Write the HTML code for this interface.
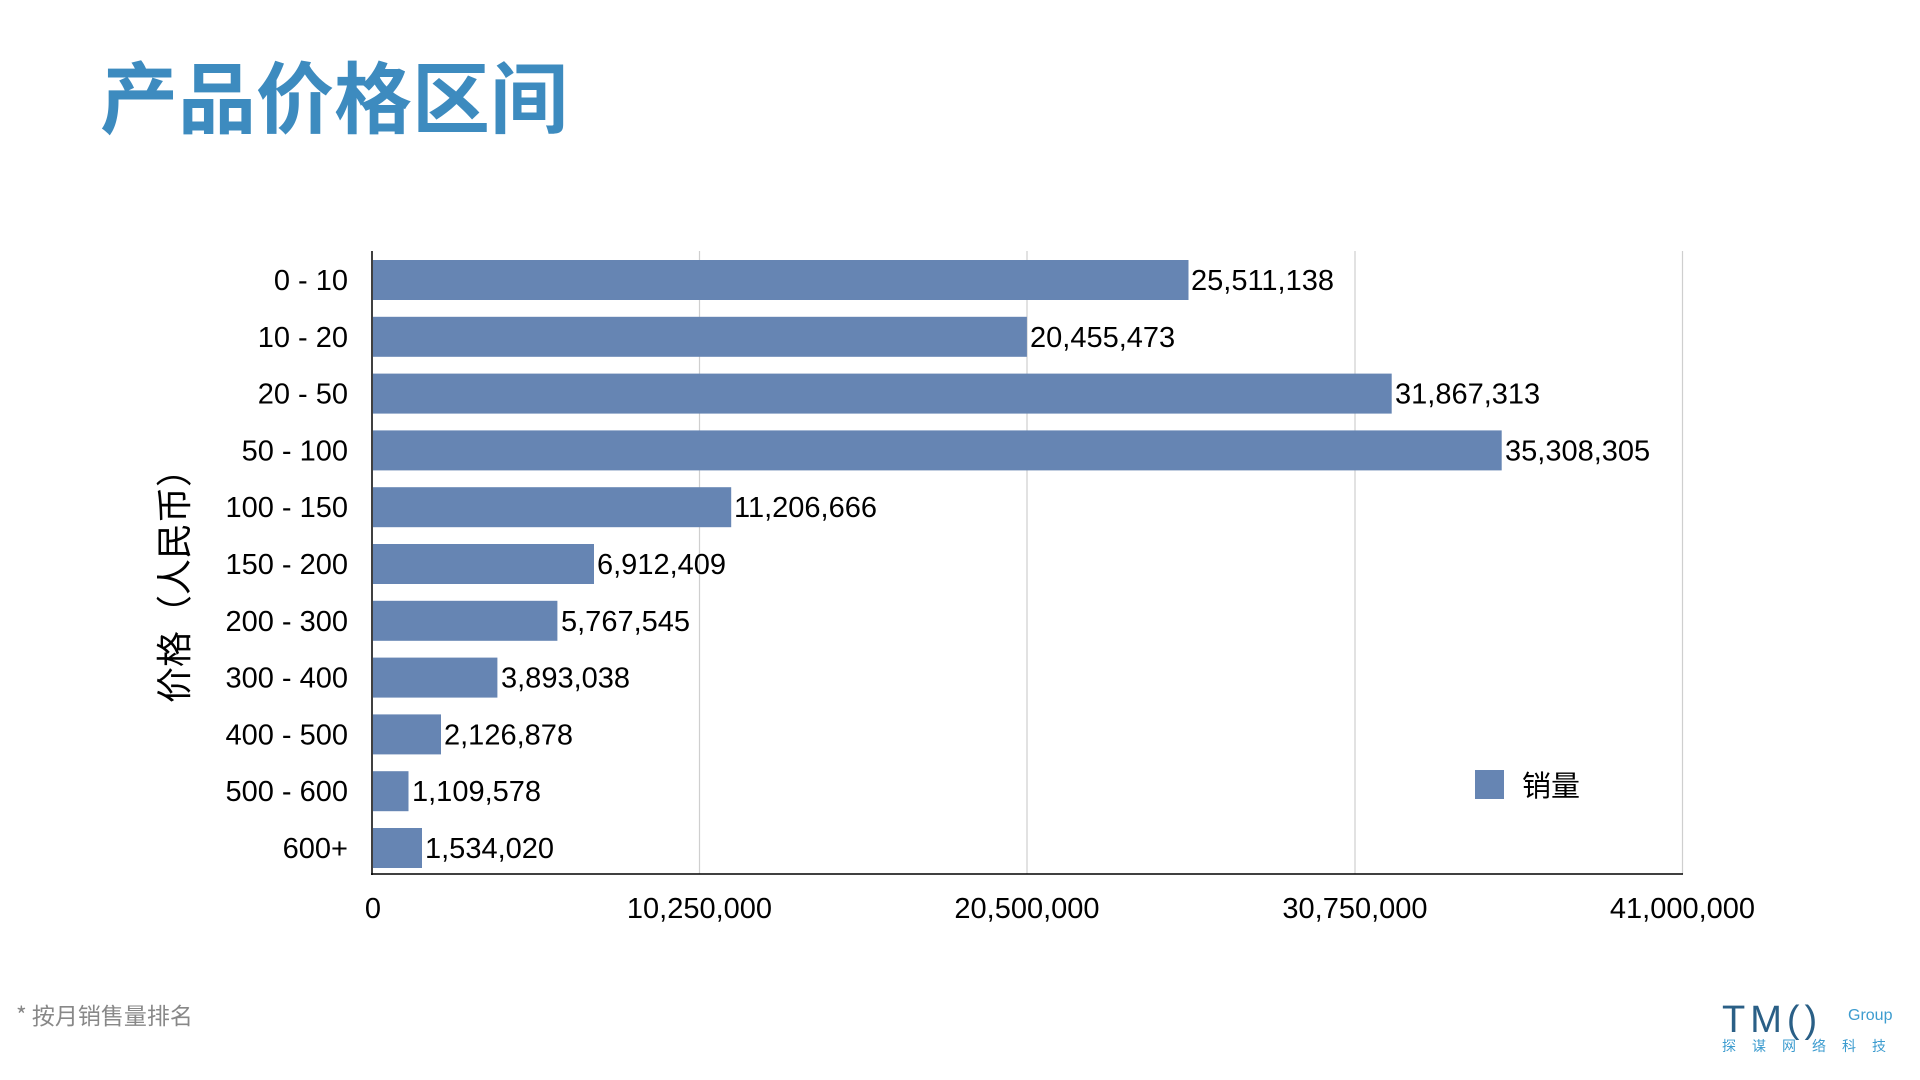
<!DOCTYPE html>
<html><head><meta charset="utf-8"><style>
html,body{margin:0;padding:0;background:#fff;width:1920px;height:1080px;overflow:hidden}
svg{display:block}
</style></head><body>
<svg width="1920" height="1080" xmlns="http://www.w3.org/2000/svg" font-family="'Liberation Sans','Noto Sans CJK SC',sans-serif">
<text x="100" y="127" font-size="78" font-weight="bold" fill="#3d8bbf" font-family="'Noto Sans CJK SC','WenQuanYi Zen Hei',sans-serif">产品价格区间</text>
<g stroke="#cfcfcf" stroke-width="1.2">
<line x1="699.5" y1="251" x2="699.5" y2="874"/>
<line x1="1027" y1="251" x2="1027" y2="874"/>
<line x1="1355" y1="251" x2="1355" y2="874"/>
<line x1="1682.5" y1="251" x2="1682.5" y2="874"/>
</g>
<g fill="#6685b3">
<rect x="373" y="260" width="815.5" height="40"/>
<rect x="373" y="316.8" width="653.9" height="40"/>
<rect x="373" y="373.6" width="1018.7" height="40"/>
<rect x="373" y="430.4" width="1128.7" height="40"/>
<rect x="373" y="487.2" width="358.2" height="40"/>
<rect x="373" y="544" width="221" height="40"/>
<rect x="373" y="600.8" width="184.4" height="40"/>
<rect x="373" y="657.6" width="124.4" height="40"/>
<rect x="373" y="714.4" width="68" height="40"/>
<rect x="373" y="771.2" width="35.5" height="40"/>
<rect x="373" y="828" width="49" height="40"/>
</g>
<line x1="372" y1="251" x2="372" y2="875" stroke="#000" stroke-width="1.5"/>
<line x1="371" y1="874" x2="1683" y2="874" stroke="#000" stroke-width="1.5"/>
<g font-size="29" fill="#000" text-anchor="end">
<text x="348" y="290">0 - 10</text>
<text x="348" y="346.8">10 - 20</text>
<text x="348" y="403.6">20 - 50</text>
<text x="348" y="460.4">50 - 100</text>
<text x="348" y="517.2">100 - 150</text>
<text x="348" y="574">150 - 200</text>
<text x="348" y="630.8">200 - 300</text>
<text x="348" y="687.6">300 - 400</text>
<text x="348" y="744.4">400 - 500</text>
<text x="348" y="801.2">500 - 600</text>
<text x="348" y="858">600+</text>
</g>
<g font-size="29" fill="#000">
<text x="1191" y="290">25,511,138</text>
<text x="1030" y="346.8">20,455,473</text>
<text x="1395" y="403.6">31,867,313</text>
<text x="1505" y="460.4">35,308,305</text>
<text x="734" y="517.2">11,206,666</text>
<text x="597" y="574">6,912,409</text>
<text x="561" y="630.8">5,767,545</text>
<text x="501" y="687.6">3,893,038</text>
<text x="444" y="744.4">2,126,878</text>
<text x="412" y="801.2">1,109,578</text>
<text x="425" y="858">1,534,020</text>
</g>
<g font-size="29" fill="#000" text-anchor="middle">
<text x="373" y="918">0</text>
<text x="699.5" y="918">10,250,000</text>
<text x="1027" y="918">20,500,000</text>
<text x="1355" y="918">30,750,000</text>
<text x="1682.5" y="918">41,000,000</text>
</g>
<text transform="translate(187,577) rotate(-90)" font-size="36" text-anchor="middle" fill="#000" font-family="'Noto Sans CJK SC',sans-serif">价格（人民币）</text>
<rect x="1475" y="770" width="29" height="29" fill="#6685b3"/>
<text x="1522" y="796" font-size="29" fill="#000" font-family="'Noto Sans CJK SC',sans-serif">销量</text>
<text x="16" y="1024" font-size="23" fill="#888" font-family="'Noto Sans CJK SC',sans-serif">* 按月销售量排名</text>
<text x="1722" y="1032" font-size="38" fill="#2a5f86" font-family="'Liberation Sans',sans-serif" letter-spacing="5">TM()</text>
<text x="1848" y="1020" font-size="16" fill="#3d9ccf" font-family="'Liberation Sans',sans-serif">Group</text>
<text x="1722" y="1051" font-size="14" fill="#3d9ccf" letter-spacing="16" font-family="'Noto Sans CJK SC',sans-serif">探谋网络科技</text>
</svg>
</body></html>
